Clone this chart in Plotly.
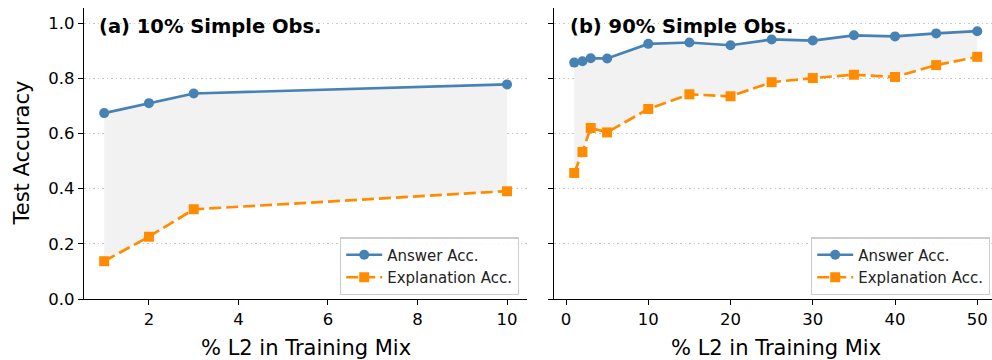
import plotly.graph_objects as go

# ---- data ----
x_left = [1, 2, 3, 10]
ans_left = [0.674, 0.710, 0.745, 0.778]
exp_left = [0.137, 0.226, 0.325, 0.391]

x_right = [1, 2, 3, 5, 10, 15, 20, 25, 30, 35, 40, 45, 50]
ans_right = [0.857, 0.862, 0.873, 0.872, 0.925, 0.930, 0.920, 0.941, 0.937, 0.956, 0.952, 0.963, 0.971]
exp_right = [0.457, 0.533, 0.620, 0.604, 0.689, 0.742, 0.735, 0.786, 0.801, 0.813, 0.805, 0.848, 0.878]

panel_titles = ["(a) 10% Simple Obs.", "(b) 90% Simple Obs."]
series_names = ["Answer Acc.", "Explanation Acc."]
x_title = "% L2 in Training Mix"
y_title = "Test Accuracy"

BLUE = "#4682b4"
ORANGE = "#ff8c00"
FILL = "#f2f2f2"
FONT = "DejaVu Sans"

W, H = 992, 360
ML, MR, MT, MB = 84, 0, 8, 61
PW = W - ML - MR
PH = H - MT - MB


def px_x(p):
    return (p - ML) / PW


def px_y(p):
    return (MT + PH - p) / PH


fig = go.Figure()

panels = [
    (x_left, ans_left, exp_left, "x", "y", "legend"),
    (x_right, ans_right, exp_right, "x2", "y2", "legend2"),
]
for xs, ans, exp, xa, ya, lg in panels:
    fig.add_trace(go.Scatter(x=xs, y=exp, mode="lines", line=dict(width=0, color=FILL),
                             showlegend=False, hoverinfo="skip", xaxis=xa, yaxis=ya))
    fig.add_trace(go.Scatter(x=xs, y=ans, mode="lines", line=dict(width=0, color=FILL),
                             fill="tonexty", fillcolor=FILL,
                             showlegend=False, hoverinfo="skip", xaxis=xa, yaxis=ya))
    fig.add_trace(go.Scatter(x=xs, y=ans, mode="lines+markers", name=series_names[0],
                             line=dict(color=BLUE, width=2.7),
                             marker=dict(symbol="circle", size=10, color=BLUE),
                             xaxis=xa, yaxis=ya, legend=lg))
    fig.add_trace(go.Scatter(x=xs, y=exp, mode="lines+markers", name=series_names[1],
                             line=dict(color=ORANGE, width=2.7, dash="12px,5px"),
                             marker=dict(symbol="square", size=10, color=ORANGE),
                             xaxis=xa, yaxis=ya, legend=lg))

left_end = px_x(527.3)
right_start = px_x(554.0)

axis_common = dict(showline=True, linecolor="black", linewidth=1.3, ticks="outside",
                   ticklen=5, tickwidth=1.2, tickcolor="black", zeroline=False,
                   tickfont=dict(family=FONT, size=16.5, color="black"))
grid_common = dict(showgrid=True, gridcolor="#c8c8c8", griddash="1.5px,3px", gridwidth=1.2)
legend_common = dict(xanchor="right", yanchor="middle", traceorder="normal", itemwidth=36,
                     bgcolor="rgba(255,255,255,0.85)", bordercolor="#cccccc", borderwidth=1.2,
                     font=dict(family=FONT, size=15, color="#222"))

fig.update_layout(
    width=W, height=H,
    margin=dict(l=ML, r=MR, t=MT, b=MB),
    plot_bgcolor="white", paper_bgcolor="white",
    font=dict(family=FONT, color="black"),
    xaxis=dict(domain=[0, left_end], range=[0.549, 10.453], tickvals=[2, 4, 6, 8, 10],
               showgrid=False, anchor="y", **axis_common),
    yaxis=dict(domain=[0, 1], range=[0, 1.055], tickvals=[0, 0.2, 0.4, 0.6, 0.8, 1.0],
               ticktext=["0.0", "0.2", "0.4", "0.6", "0.8", "1.0"],
               anchor="x", **grid_common, **axis_common),
    xaxis2=dict(domain=[right_start, 1], range=[-1.46, 51.79], tickvals=[0, 10, 20, 30, 40, 50],
                showgrid=False, anchor="y2", **axis_common),
    yaxis2=dict(domain=[0, 1], range=[0, 1.055], tickvals=[0, 0.2, 0.4, 0.6, 0.8, 1.0],
                showticklabels=False, anchor="x2", **grid_common, **axis_common),
    legend=dict(x=px_x(519), y=px_y(266.3), **legend_common),
    legend2=dict(x=px_x(990), y=px_y(266.3), **legend_common),
)

annotations = [
    dict(text="<b>" + panel_titles[0] + "</b>", xref="x domain", yref="y domain",
         x=(97 - 83.7) / (527.3 - 83.7), y=px_y(26.5), xanchor="left", yanchor="middle",
         showarrow=False, font=dict(family=FONT, size=19.5, color="black")),
    dict(text="<b>" + panel_titles[1] + "</b>", xref="x2 domain", yref="y2 domain",
         x=(568 - 554) / (992 - 554), y=px_y(26.5), xanchor="left", yanchor="middle",
         showarrow=False, font=dict(family=FONT, size=19.5, color="black")),
    dict(text=y_title, xref="paper", yref="paper", x=px_x(21), y=px_y(153.5),
         xanchor="center", yanchor="middle", textangle=-90, showarrow=False,
         font=dict(family=FONT, size=21, color="black")),
    dict(text=x_title, xref="paper", yref="paper", x=px_x(305.5), y=px_y(348),
         xanchor="center", yanchor="middle", showarrow=False,
         font=dict(family=FONT, size=21, color="black")),
    dict(text=x_title, xref="paper", yref="paper", x=px_x(776), y=px_y(348),
         xanchor="center", yanchor="middle", showarrow=False,
         font=dict(family=FONT, size=21, color="black")),
]
fig.update_layout(annotations=annotations)

fig.write_html("out.html", config={"displayModeBar": False},
               post_script="document.body.style.margin='0';document.body.style.padding='0';")
